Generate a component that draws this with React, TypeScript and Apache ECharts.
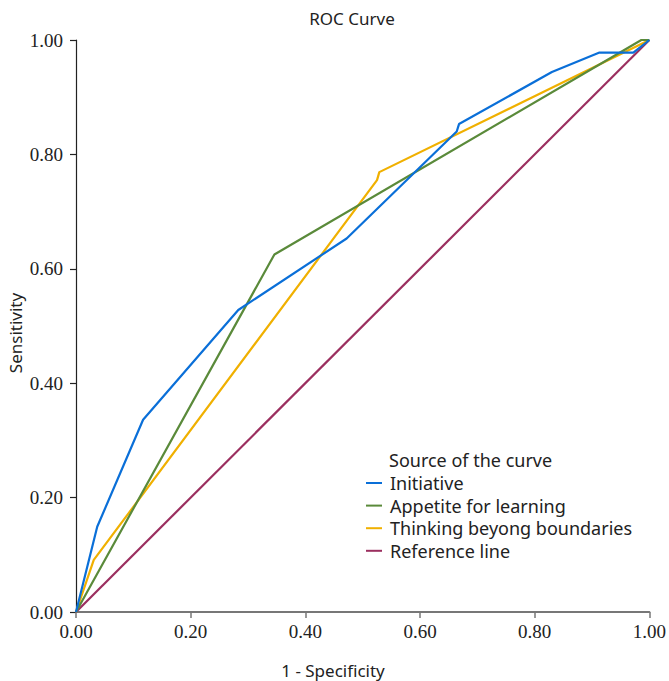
import React, { useEffect, useRef } from "react";
import * as echarts from "echarts";

const seriesNames = ["Initiative", "Appetite for learning", "Thinking beyong boundaries", "Reference line"];
const seriesColors = ["#0a6fd8", "#5a8a3a", "#f0b000", "#9b2f5f"];

const initiative: [number, number][] = [
  [0, 0], [0.037, 0.149], [0.117, 0.336], [0.283, 0.528], [0.472, 0.653],
  [0.664, 0.84], [0.668, 0.853], [0.83, 0.944], [0.913, 0.978], [0.972, 0.978], [1, 1],
];
const appetite: [number, number][] = [
  [0, 0], [0.346, 0.625], [0.986, 1], [1, 1],
];
const thinking: [number, number][] = [
  [0, 0], [0.031, 0.091], [0.525, 0.755], [0.529, 0.769], [1, 1],
];
const reference: [number, number][] = [
  [0, 0], [1, 1],
];

const tickLabels = ["0.00", "0.20", "0.40", "0.60", "0.80", "1.00"];

const serifFont = "Liberation Serif";
const sansFont = "Noto Sans";

export default function App() {
  const ref = useRef<HTMLDivElement>(null);
  useEffect(() => {
    if (!ref.current) return;
    const chart = echarts.init(ref.current, undefined, { renderer: "svg" });
    const datasets = [initiative, appetite, thinking, reference];
    const order = [3, 2, 1, 0];
    const axisLabel = {
      fontFamily: serifFont,
      fontSize: 19,
      color: "#222",
      formatter: (v: number) => tickLabels[Math.round(v * 5)] ?? "",
    };
    chart.setOption({
      animation: false,
      backgroundColor: "#fff",
      grid: { left: 76, right: 15, top: 40, bottom: 69 },
      xAxis: {
        type: "value",
        min: 0,
        max: 1,
        interval: 0.2,
        axisLine: { show: true, lineStyle: { color: "#777", width: 2 } },
        axisTick: { show: true, length: 6, lineStyle: { color: "#777", width: 1.5 } },
        splitLine: { show: false },
        axisLabel: { ...axisLabel, margin: 10 },
      },
      yAxis: {
        type: "value",
        min: 0,
        max: 1,
        interval: 0.2,
        axisLine: { show: true, lineStyle: { color: "#222", width: 1.2 } },
        axisTick: { show: true, length: 6, lineStyle: { color: "#222", width: 1.2 } },
        splitLine: { show: false },
        axisLabel: { ...axisLabel, margin: 13 },
      },
      legend: {
        orient: "vertical",
        left: 361,
        top: 469,
        data: seriesNames,
        icon: "rect",
        itemWidth: 16,
        itemHeight: 2,
        itemGap: 4.6,
        textStyle: {
          fontFamily: sansFont,
          fontSize: 18,
          lineHeight: 18,
          color: "#222",
          padding: [0, 0, 0, 3],
        },
      },
      graphic: [
        {
          type: "text",
          x: 352,
          y: 18,
          style: {
            text: "ROC Curve",
            fontFamily: sansFont,
            fontSize: 17,
            fill: "#222",
            align: "center",
            verticalAlign: "middle",
          },
        },
        {
          type: "text",
          x: 389,
          y: 460,
          style: {
            text: "Source of the curve",
            fontFamily: sansFont,
            fontSize: 18,
            lineHeight: 18,
            fill: "#222",
            align: "left",
            verticalAlign: "middle",
          },
        },
        {
          type: "text",
          x: 333,
          y: 670,
          style: {
            text: "1 - Specificity",
            fontFamily: sansFont,
            fontSize: 17,
            fill: "#222",
            align: "center",
            verticalAlign: "middle",
          },
        },
        {
          type: "text",
          x: 15,
          y: 333,
          rotation: Math.PI / 2,
          style: {
            text: "Sensitivity",
            fontFamily: sansFont,
            fontSize: 17,
            fill: "#222",
            align: "center",
            verticalAlign: "middle",
          },
        },
      ],
      series: order.map((i) => ({
        name: seriesNames[i],
        type: "line",
        data: datasets[i],
        showSymbol: false,
        symbol: "none",
        color: seriesColors[i],
        lineStyle: { color: seriesColors[i], width: 2.2 },
      })),
    });
    return () => chart.dispose();
  }, []);
  return (
    <div
      ref={ref}
      style={{ position: "absolute", left: 0, top: 0, width: 669, height: 681 }}
    />
  );
}
